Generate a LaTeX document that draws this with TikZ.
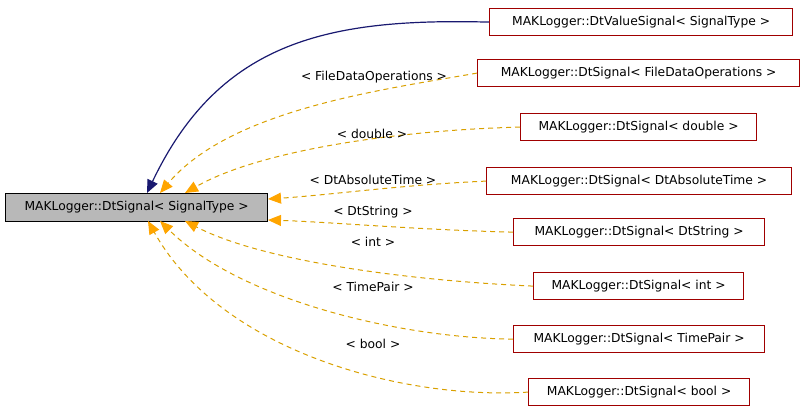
\documentclass[tikz,border=0pt]{standalone}
\usepackage{fontspec}
\setmainfont{DejaVu Sans}
\usetikzlibrary{arrows.meta}
\definecolor{og}{HTML}{D9A000}
\definecolor{oa}{HTML}{FFA500}
\definecolor{rd}{HTML}{A00000}
\definecolor{nv}{HTML}{191970}
\begin{document}
\begin{tikzpicture}[x=1pt,y=-1pt,
  every node/.style={font=\fontsize{12.3}{14}\selectfont, inner sep=0pt},
  cls/.style={draw=rd, line width=1.2pt, fill=white, minimum height=27pt, anchor=north west},
  inh/.style={dash pattern=on 5pt off 4pt, draw=og, line width=1pt, -{Triangle[length=13pt,width=11pt,fill=oa,color=oa]}},
  pub/.style={draw=nv, line width=1.2pt, -{Triangle[length=13pt,width=11pt,fill=nv]}}]
\useasboundingbox (0,0) rectangle (805,413);
\node[draw=black, line width=1.2pt, fill=black!28, minimum width=262pt, minimum height=28pt, anchor=north west] (base) at (5,193) {MAKLogger::DtSignal< SignalType >};
\node[cls, minimum width=303pt] (v) at (489,8) {MAKLogger::DtValueSignal< SignalType >};
\node[cls, minimum width=322pt] (f) at (477,59) {MAKLogger::DtSignal< FileDataOperations >};
\node[cls, minimum width=236pt] (d) at (520,113) {MAKLogger::DtSignal< double >};
\node[cls, minimum width=305pt] (a) at (486,167) {MAKLogger::DtSignal< DtAbsoluteTime >};
\node[cls, minimum width=251pt] (s) at (513,218) {MAKLogger::DtSignal< DtString >};
\node[cls, minimum width=210pt] (i) at (533,272) {MAKLogger::DtSignal< int >};
\node[cls, minimum width=251pt] (t) at (513,325) {MAKLogger::DtSignal< TimePair >};
\node[cls, minimum width=221pt] (b) at (528,378) {MAKLogger::DtSignal< bool >};
\coordinate (pv) at (147,193);
\coordinate (pf) at (160,193);
\coordinate (pd) at (185,193);
\coordinate (pa) at (268,199);
\coordinate (ps) at (268,220);
\coordinate (pi) at (185,221);
\coordinate (pt) at (160,221);
\coordinate (pb) at (148,221);
\draw[pub] (v.west) .. controls (330,18) and (220,40) .. (pv);
\draw[inh] (f.west) .. controls (380,90) and (230,110) .. (pf);
\draw[inh] (d.west) .. controls (400,130) and (260,150) .. (pd);
\draw[inh] (a.west) .. controls (400,185) and (330,195) .. (pa);
\draw[inh] (s.west) .. controls (420,230) and (330,222) .. (ps);
\draw[inh] (i.west) .. controls (400,280) and (260,260) .. (pi);
\draw[inh] (t.west) .. controls (400,338) and (240,300) .. (pt);
\draw[inh] (b.west) .. controls (400,400) and (220,350) .. (pb);
\node (lf) at (374,77) {< FileDataOperations >};
\node (ld) at (372,134) {< double >};
\node (la) at (373,180) {< DtAbsoluteTime >};
\node (ls) at (373,212) {< DtString >};
\node (li) at (373,242) {< int >};
\node (lt) at (373,287) {< TimePair >};
\node (lb) at (373,344) {< bool >};
\end{tikzpicture}
\end{document}
